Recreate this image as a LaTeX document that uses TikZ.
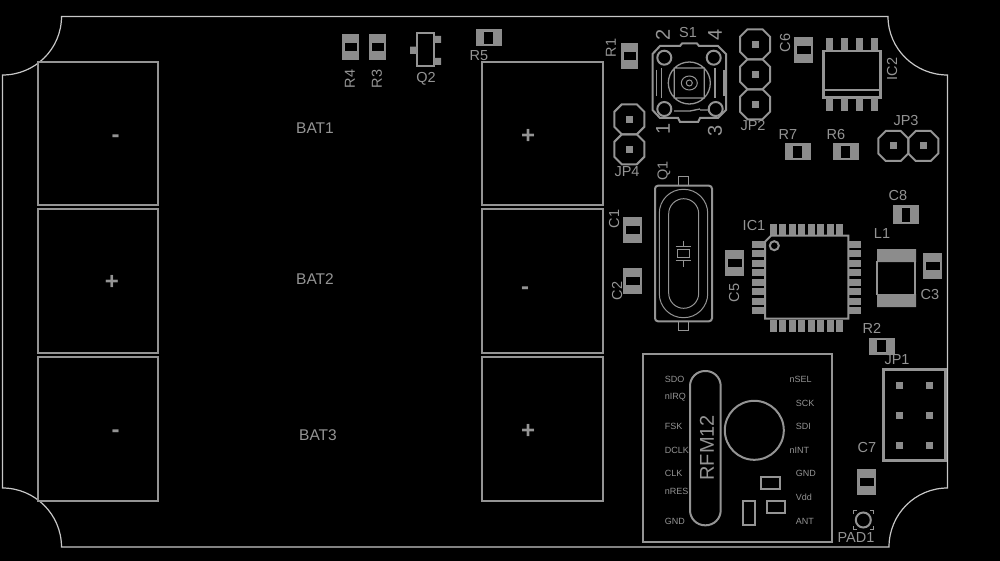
\documentclass[tikz,border=0pt]{standalone}
\usepackage{fontspec}
\setmainfont{Liberation Sans}
\colorlet{silkgray}{black!42}
\colorlet{padgray}{black!45}
\colorlet{edgegray}{black!22}
\colorlet{textgray}{black!42}
\tikzset{
  outline/.style={draw=edgegray,line width=1.2pt},
  silk/.style={draw=silkgray,line width=2pt},
  fine/.style={draw=silkgray,line width=1pt},
  pad/.style={fill=padgray},
  lbl/.style={text=textgray,inner sep=0pt,font=\fontsize{14.5}{14.5}\selectfont},
  mini/.style={text=textgray,inner sep=0pt,anchor=west,font=\fontsize{9}{9}\selectfont},
  big/.style={text=textgray,inner sep=0pt,font=\fontsize{15.5}{15.5}\selectfont},
  digit/.style={text=textgray,inner sep=0pt,rotate=90,font=\fontsize{20}{20}\selectfont},
  sign/.style={text=silkgray,inner sep=0pt,font=\bfseries\fontsize{24}{24}\selectfont},
  chip/.pic={
    \fill[pad] (-#1/2,-13) rectangle (#1/2,13);
    \fill[black] (-#1/2+2,-4.2) rectangle (#1/2-2,4.2);
    \draw[fine,line width=0.8pt] (-#1/2+2,-4.2) -- (-#1/2+2,4.2)
      (#1/2-2,-4.2) -- (#1/2-2,4.2);
  },
  hole/.pic={
    \draw[silk] (-7.5,-15) -- (7.5,-15) -- (15,-7.5) -- (15,7.5) -- (7.5,15)
      -- (-7.5,15) -- (-15,7.5) -- (-15,-7.5) -- cycle;
    \fill[pad] (-3.5,-3.5) rectangle (3.5,3.5);
  },
}
\begin{document}
\begin{tikzpicture}[x=1pt,y=-1pt]
\fill[black] (0,0) rectangle (1000,561);
\useasboundingbox (0,0) rectangle (1000,561);
\draw[outline] (61.5,16.5) -- (888,16.5)
  .. controls (888,49) and (915,75) .. (947.5,75) -- (947.5,488)
  .. controls (915,488) and (889,514.5) .. (889,547) -- (61.5,547)
  .. controls (61.5,514.5) and (35,488) .. (2.5,488) -- (2.5,75)
  .. controls (35,75) and (61.5,49) .. cycle;
% battery holders
\foreach \top/\bot in {62/205.5,209/353,357.3/501} {
  \draw[silk] (38,\top) rectangle (158,\bot);
  \draw[silk] (481.5,\top) rectangle (602.5,\bot);
}
\node[sign] (minusa) at (115.5,138.5) {-};
\node[sign] (plusb) at (112,282) {+};
\node[sign] (minusc) at (115.5,433.5) {-};
\node[sign] (plusa) at (528,136) {+};
\node[sign] (minusb) at (525,290.5) {-};
\node[sign] (plusc) at (528,431) {+};
\node[big] (bata) at (315,128) {BAT1};
\node[big] (batb) at (315,279) {BAT2};
\node[big] (batc) at (318,435) {BAT3};
% small chips
\foreach \x/\y/\w/\r in {350.5/47/17/0,377.5/47/17/0,629.5/56/17/0,488.5/38/17/90,
    797.5/152/17/90,845.5/152/17/90,881.5/346/17/90,803.5/50/19/0,632.5/230/19/0,
    632.5/281/19/0,734.5/263/19/0,932.5/266/19/0,866.5/482/19/0,906/214.5/19/90}
  \pic[rotate=\r] at (\x,\y) {chip=\w};
\node[lbl,rotate=90] (rfour) at (350,79) {R4};
\node[lbl,rotate=90] (rthree) at (377,79) {R3};
\node[lbl] (rfive) at (479,56) {R5};
\node[lbl,rotate=90] (rone) at (611,48) {R1};
\node[lbl,rotate=90] (csix) at (785,43) {C6};
\node[lbl] (rseven) at (788,135) {R7};
\node[lbl] (rsix) at (836,135) {R6};
\node[lbl,rotate=90] (cone) at (614,219) {C1};
\node[lbl,rotate=90] (ctwo) at (617,291) {C2};
\node[lbl,rotate=90] (cfive) at (734,293) {C5};
\node[lbl] (ceight) at (898,196) {C8};
\node[lbl] (cthree) at (930,295) {C3};
\node[lbl] (rtwo) at (872,328) {R2};
\node[lbl] (cseven) at (867,448) {C7};
% Q2
\draw[silk] (417,33) rectangle (433.5,66);
\fill[pad] (410,46.7) rectangle (417,54) (434,36) rectangle (441,43) (434,58) rectangle (441,65);
\node[lbl] (qtwo) at (426,79) {Q2};
% S1
\draw[silk] (660,46) -- (680,46) -- (682,43.5) -- (697,43.5) -- (699,46) -- (718,46)
  -- (726,54) -- (726,110) -- (718,118) -- (700,118) -- (698,122) -- (680,122)
  -- (678,118) -- (660,118) -- (652.5,110) -- (652.5,54) -- cycle;
\foreach \x/\y in {664.3/57.7,713.7/57.7,664.3/109,715.7/109}
  \draw[silk] (\x,\y) circle (7);
\draw[fine,line width=1.3pt] (689.3,83) circle (21) (674.3,68) rectangle (704.3,98);
\draw[fine] (689.3,83) ellipse (8 and 7) (689.3,83) circle (3);
\draw[fine,line width=1.3pt] (661.7,68) -- (661.7,98) (656.7,70) -- (656.7,96)
  (715,68) -- (715,98) (724,70) -- (724,96);
\draw[fine,line width=1.3pt] (674,111) -- (690,111) -- (700,109) (700,110) -- (708,110);
\node[lbl] (sone) at (688,33) {S1};
\node[digit] (stwo) at (663,35) {2};
\node[digit] (sfour) at (715,35) {4};
\node[digit] (ssone) at (663,129) {1};
\node[digit] (ssthree) at (715,131) {3};
% jumpers
\foreach \x/\y in {755/44.3,755/74.3,755/104.3,629.3/119.3,629.3/149.3,893.3/146,923.3/146}
  \pic at (\x,\y) {hole};
\node[lbl] (jptwo) at (753,126) {JP2};
\node[lbl] (jpfour) at (627,172) {JP4};
\node[lbl] (jpthree) at (906,121) {JP3};
\draw[silk,line width=3pt] (883,369) rectangle (945,460.7);
\foreach \x in {899.3,929.3}
  \foreach \y in {385.3,415.3,445.3}
    \fill[pad] (\x-3.5,\y-3.5) rectangle (\x+3.5,\y+3.5);
\node[lbl] (jpone) at (897,360) {JP1};
% IC2
\draw[silk,line width=2.5pt] (823.3,51) rectangle (880.7,97.3);
\draw[silk,line width=2.5pt] (823.3,90) -- (880.7,90);
\foreach \x in {829.3,844.3,859.3,874.3} {
  \fill[pad] (\x-3.4,38.3) rectangle (\x+3.4,50);
  \fill[pad] (\x-3.4,98) rectangle (\x+3.4,110.7);
}
\node[lbl,rotate=90] (ictwo) at (892,69) {IC2};
% Q1
\draw[silk,rounded corners=3pt] (655,185.7) rectangle (712,321.3);
\draw[fine] (678.7,185.7) -- (678.7,176.7) -- (688.7,176.7) -- (688.7,185.7)
  (678.7,321.3) -- (678.7,330) -- (688.7,330) -- (688.7,321.3);
\draw[fine,rounded corners=24pt] (659.3,189.3) rectangle (707.7,317.7);
\draw[fine,rounded corners=15pt] (668.7,198.7) rectangle (698.7,308.3);
\draw[fine] (683.3,240.7) -- (683.3,246) (675.7,246) -- (691,246)
  (677,249) rectangle (689.7,257) (675.7,260.3) -- (691,260.3) (683.3,260.3) -- (683.3,267);
\node[lbl,rotate=90] (qone) at (664,171) {Q1};
% IC1
\draw[silk] (771,235.7) -- (848.3,235.7) -- (848.3,318.7) -- (765,318.7) -- (765,241.7) -- cycle;
\draw[silk] (774.3,245.7) circle (4.5);
\foreach \i in {0,...,7} {
  \fill[pad] (770+\i*9.48,224) rectangle (776.8+\i*9.48,235);
  \fill[pad] (770+\i*9.48,319.5) rectangle (776.8+\i*9.48,332);
  \fill[pad] (752,241+\i*9.43) rectangle (764,248+\i*9.43);
  \fill[pad] (849,241+\i*9.43) rectangle (861,248+\i*9.43);
}
\node[lbl] (icone) at (754,226) {IC1};
% L1
\fill[pad] (877,249) rectangle (916,262) (877,294) rectangle (916,307);
\draw[silk] (877,261) -- (877,295) (915,261) -- (915,295);
\node[lbl] (lone) at (882,234) {L1};
% RFM12
\draw[silk] (642.7,354) rectangle (832.3,542);
\draw[silk,rounded corners=15pt] (690,371) rectangle (720.7,525.3);
\draw[silk] (754.3,430.3) circle (29.5);
\draw[silk] (760.7,476.7) rectangle (779.7,489.3) (766.7,500.7) rectangle (785.3,513.3)
  (742.7,500.7) rectangle (755.3,525);
\node[text=textgray,inner sep=0pt,rotate=90,font=\fontsize{20}{20}\selectfont] (rfm) at (707,447.7) {RFM12};
\node[mini] (sdo) at (664.7,379.7) {SDO};
\node[mini] (nirq) at (664.7,397) {nIRQ};
\node[mini] (fsk) at (664.7,426.7) {FSK};
\node[mini] (dclk) at (664.7,450.7) {DCLK};
\node[mini] (clk) at (664.7,473.7) {CLK};
\node[mini] (nres) at (664.7,491.7) {nRES};
\node[mini] (gnda) at (664.7,521.3) {GND};
\node[mini] (nsel) at (789.3,379.7) {nSEL};
\node[mini] (sck) at (795.7,403.7) {SCK};
\node[mini] (sdi) at (795.7,426.7) {SDI};
\node[mini] (nint) at (789.3,450.7) {nINT};
\node[mini] (gndb) at (795.7,473.7) {GND};
\node[mini] (vdd) at (795.7,497.7) {Vdd};
\node[mini] (ant) at (795.7,521.3) {ANT};
% PAD1
\draw[silk] (863.3,520) circle (7.5);
\draw[fine] (853.5,514) -- (853.5,510.5) -- (857,510.5) (873,514) -- (873,510.5) -- (869.5,510.5)
  (853.5,526) -- (853.5,529.5) -- (857,529.5) (873,526) -- (873,529.5) -- (869.5,529.5);
\node[lbl] (padone) at (856,538) {PAD1};
\end{tikzpicture}
\end{document}
